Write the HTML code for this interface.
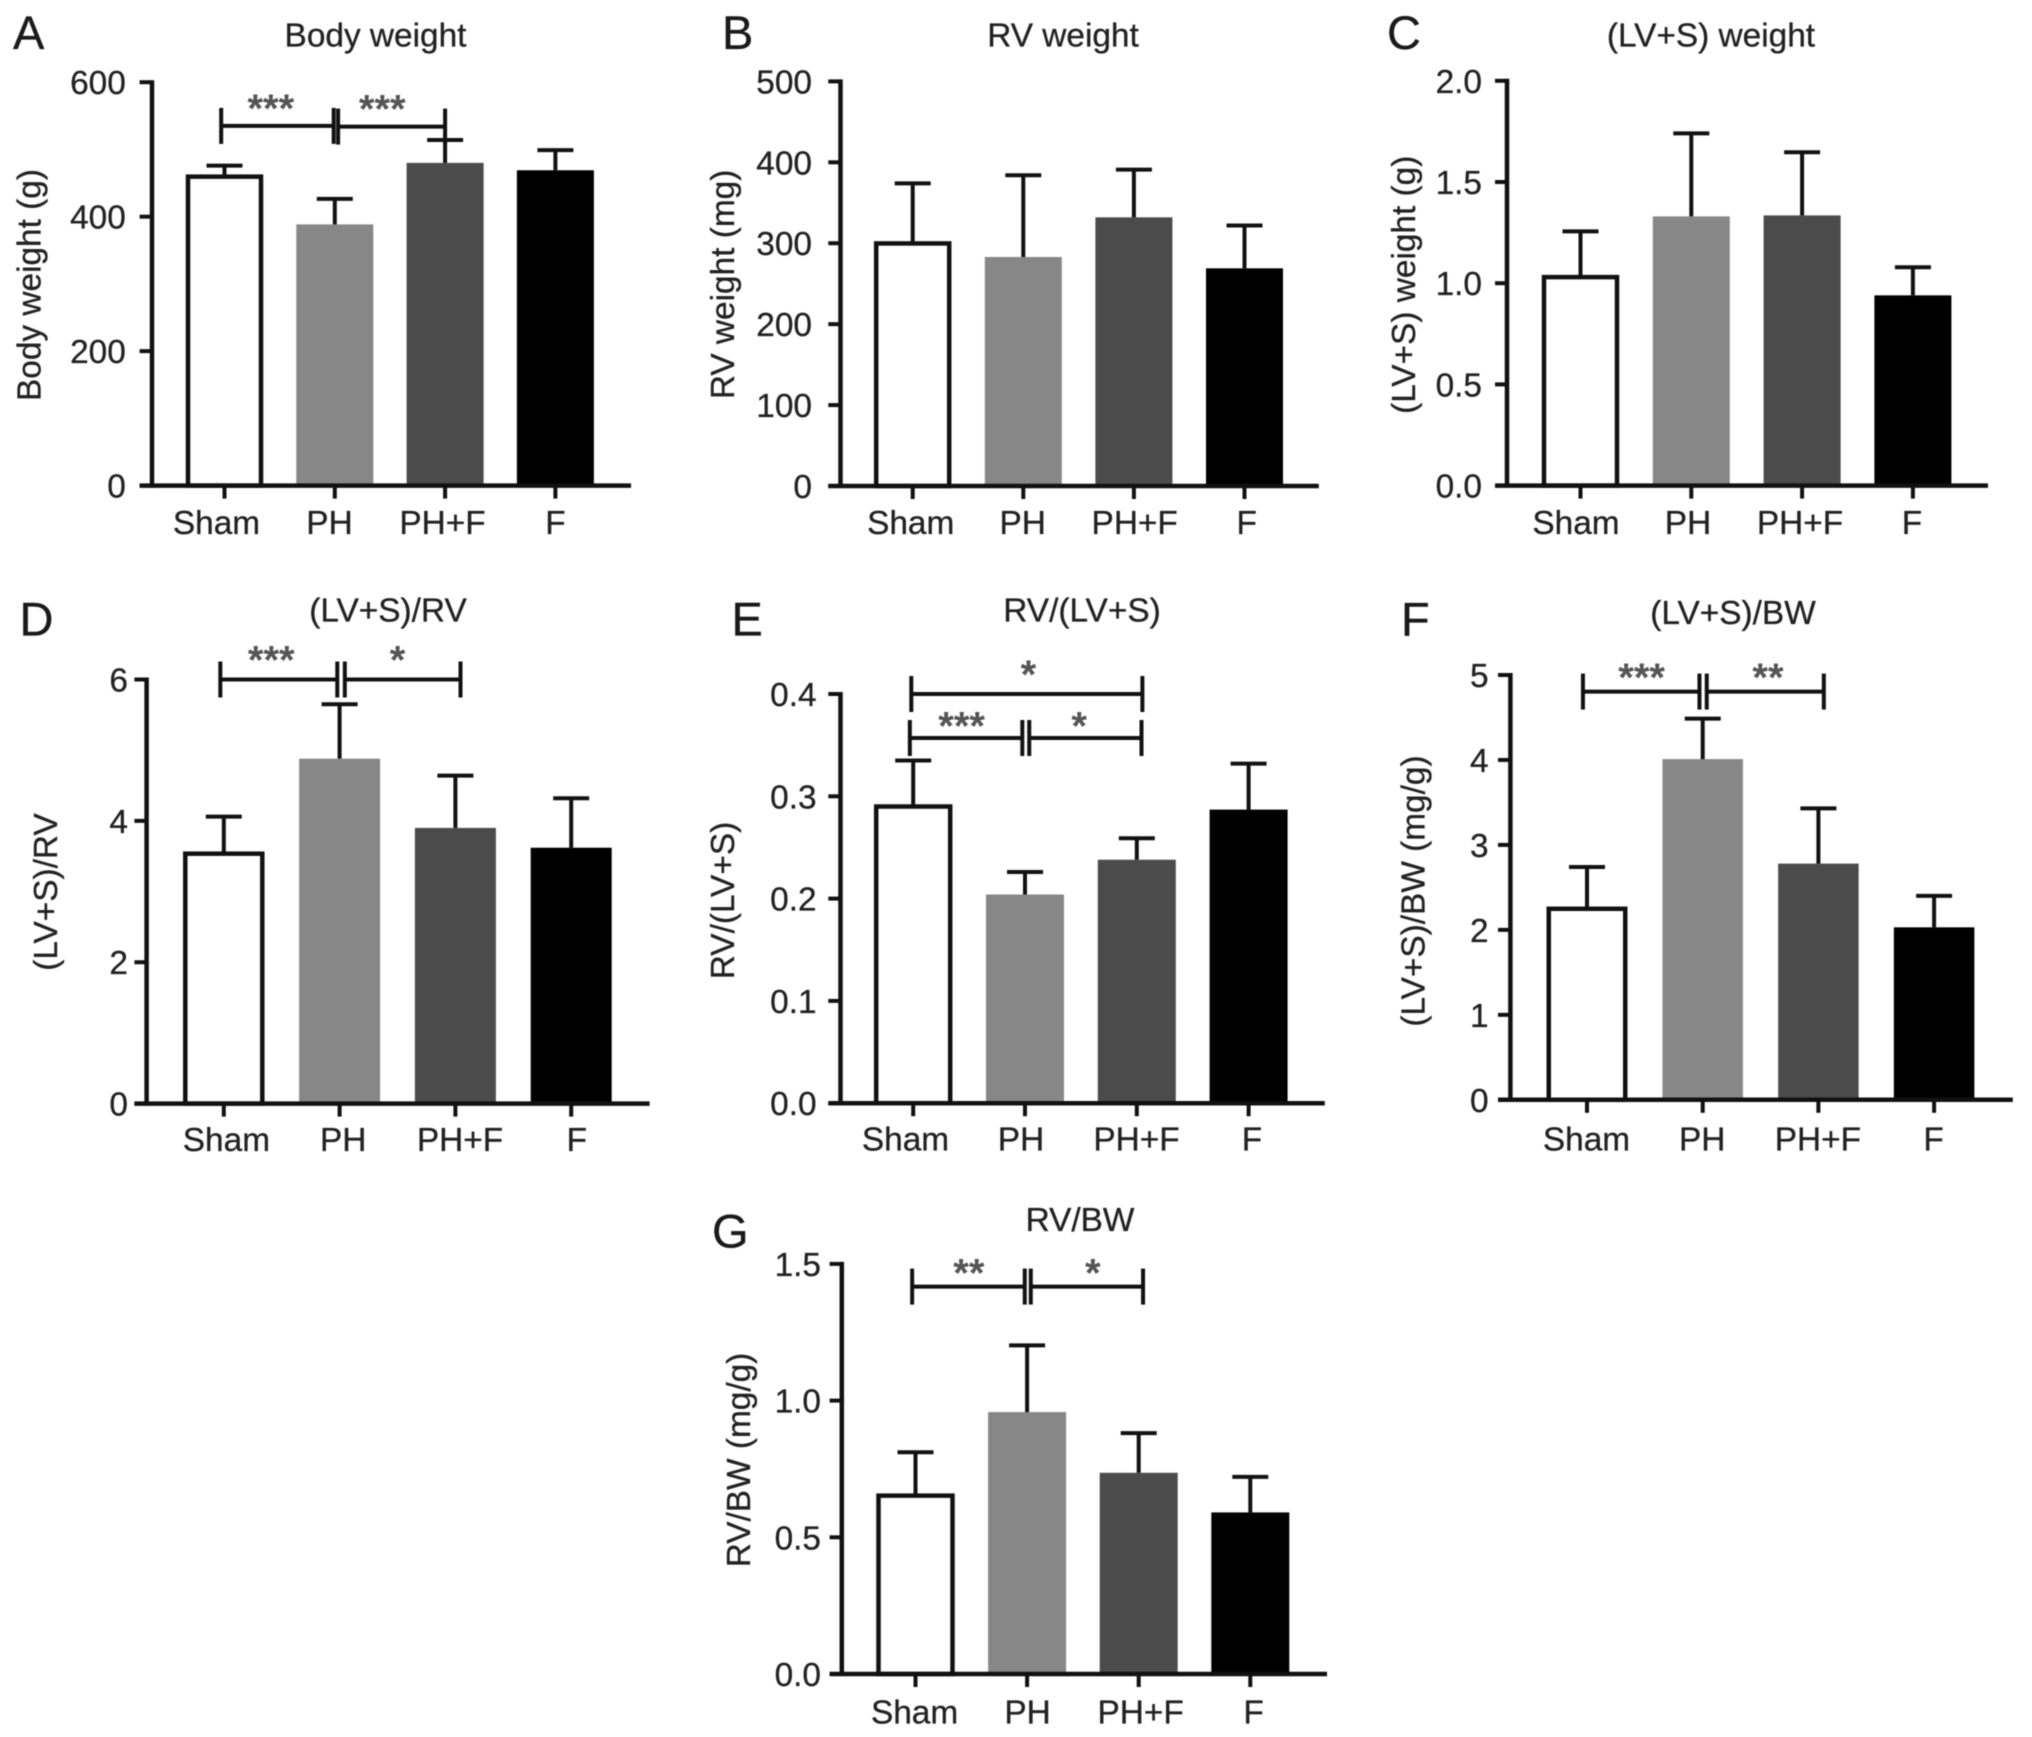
<!DOCTYPE html>
<html lang="en">
<head>
<meta charset="utf-8">
<title>Body and heart weight bar charts</title>
<style>
  html, body { margin: 0; padding: 0; background: #fff; }
  #figure { display: block; width: 2032px; height: 1737px; filter: blur(0.6px); }
  text { font-family: "Liberation Sans", sans-serif; fill: #222; font-size: 33.4px; stroke: #222; stroke-width: 0.3px; }
  .letter { font-size: 47px; fill: #1a1a1a; stroke: #1a1a1a; }
  .star { font-size: 40px; font-weight: bold; fill: #555; stroke: none; text-anchor: middle; }
  .mid { text-anchor: middle; }
  .end { text-anchor: end; }
</style>
</head>
<body>
<svg id="figure" xmlns="http://www.w3.org/2000/svg" width="2032" height="1737" viewBox="0 0 2032 1737">
  <rect width="2032" height="1737" fill="#fff"/>

  <g id="panel-a">
    <text class="letter" x="13" y="49">A</text>
    <text class="mid" x="375.5" y="46.5">Body weight</text>
    <text class="mid" transform="translate(40.3 285) rotate(-90)">Body weight (g)</text>
  </g>
  <g id="panel-b">
    <text class="letter" x="722" y="49">B</text>
    <text class="mid" x="1063" y="46.5">RV weight</text>
    <text class="mid" transform="translate(734 284.4) rotate(-90)">RV weight (mg)</text>
  </g>
  <g id="panel-c">
    <text class="letter" x="1387" y="49">C</text>
    <text class="mid" x="1711" y="46.5">(LV+S) weight</text>
    <text class="mid" transform="translate(1415 284.8) rotate(-90)">(LV+S) weight (g)</text>
  </g>
  <g id="panel-d">
    <text class="letter" x="19.5" y="635.5">D</text>
    <text class="mid" x="388" y="621.3">(LV+S)/RV</text>
    <text class="mid" transform="translate(57 892) rotate(-90)">(LV+S)/RV</text>
  </g>
  <g id="panel-e">
    <text class="letter" x="731.5" y="635.5">E</text>
    <text class="mid" x="1082" y="621.3">RV/(LV+S)</text>
    <text class="mid" transform="translate(734 900.5) rotate(-90)">RV/(LV+S)</text>
  </g>
  <g id="panel-f">
    <text class="letter" x="1401" y="635.5">F</text>
    <text class="mid" x="1733" y="624">(LV+S)/BW</text>
    <text class="mid" transform="translate(1424.5 891) rotate(-90)">(LV+S)/BW (mg/g)</text>
  </g>
  <g id="panel-g">
    <text class="letter" x="712" y="1247.6">G</text>
    <text class="mid" x="1080" y="1231">RV/BW</text>
    <text class="mid" transform="translate(750 1460) rotate(-90)">RV/BW (mg/g)</text>
  </g>
</svg>

<script>
// ---------- Data ----------
const categories = ['Sham', 'PH', 'PH+F', 'F'];

const bodyWeightMeans = [461, 388.5, 480, 469];
const bodyWeightErrors = [15, 38, 34, 30];
const bodyWeightTicks = ['0', '200', '400', '600'];

const rvWeightMeans = [301, 283, 332, 269];
const rvWeightErrors = [73, 101, 59, 53];
const rvWeightTicks = ['0', '100', '200', '300', '400', '500'];

const lvsWeightMeans = [1.035, 1.33, 1.335, 0.94];
const lvsWeightErrors = [0.221, 0.41, 0.312, 0.139];
const lvsWeightTicks = ['0.0', '0.5', '1.0', '1.5', '2.0'];

const lvsRvMeans = [3.55, 4.88, 3.9, 3.62];
const lvsRvErrors = [0.51, 0.77, 0.74, 0.70];
const lvsRvTicks = ['0', '2', '4', '6'];

const rvLvsMeans = [0.291, 0.204, 0.238, 0.287];
const rvLvsErrors = [0.044, 0.022, 0.021, 0.045];
const rvLvsTicks = ['0.0', '0.1', '0.2', '0.3', '0.4'];

const lvsBwMeans = [2.26, 4.01, 2.78, 2.03];
const lvsBwErrors = [0.48, 0.477, 0.65, 0.37];
const lvsBwTicks = ['0', '1', '2', '3', '4', '5'];

const rvBwMeans = [0.656, 0.958, 0.736, 0.591];
const rvBwErrors = [0.155, 0.244, 0.145, 0.13];
const rvBwTicks = ['0.0', '0.5', '1.0', '1.5'];

// Significance brackets: from/to/labelAt in category units, level in data units.
const bodyWeightSig = [
  { from: -0.03, to: 0.99, level: 535, mark: '***', labelAt: 0.42 },
  { from: 1.03, to: 2.0, level: 534, mark: '***', labelAt: 1.43 }
];
const rvWeightSig = [];
const lvsWeightSig = [];
const lvsRvSig = [
  { from: -0.03, to: 0.98, level: 6.0, mark: '***', labelAt: 0.41 },
  { from: 1.045, to: 2.044, level: 6.0, mark: '*', labelAt: 1.50 }
];
const rvLvsSig = [
  { from: -0.017, to: 2.05, level: 0.4, mark: '*', labelAt: 1.03 },
  { from: -0.03, to: 0.976, level: 0.357, mark: '***', labelAt: 0.433 },
  { from: 1.038, to: 2.042, level: 0.357, mark: '*', labelAt: 1.484 }
];
const lvsBwSig = [
  { from: -0.035, to: 0.972, level: 4.805, mark: '***', labelAt: 0.472 },
  { from: 1.035, to: 2.047, level: 4.805, mark: '**', labelAt: 1.564 }
];
const rvBwSig = [
  { from: -0.03, to: 0.979, level: 1.417, mark: '**', labelAt: 0.478 },
  { from: 1.033, to: 2.039, level: 1.417, mark: '*', labelAt: 1.589 }
];

// ---------- Panel geometry (no data here) ----------
const panels = [
  { id: 'panel-a', means: bodyWeightMeans, errors: bodyWeightErrors, ticks: bodyWeightTicks, sig: bodyWeightSig,
    axisX: 152, y0: 485.6, yTop: 82.2, tickLeft: 139.6, xRight: 631, barX0: 224.5, barStep: 110.3, barW: 77,
    labelX0: 216.5, labelStep: 113, labelY: 534, tickRight: 125.8, rise: 27, firstRise: 27 },
  { id: 'panel-b', means: rvWeightMeans, errors: rvWeightErrors, ticks: rvWeightTicks, sig: rvWeightSig,
    axisX: 840.5, y0: 486, yTop: 81.4, tickLeft: 828.3, xRight: 1318.8, barX0: 912.7, barStep: 110.6, barW: 77,
    labelX0: 910.7, labelStep: 112, labelY: 534, tickRight: 812, rise: 23, firstRise: 23 },
  { id: 'panel-c', means: lvsWeightMeans, errors: lvsWeightErrors, ticks: lvsWeightTicks, sig: lvsWeightSig,
    axisX: 1507, y0: 485.6, yTop: 80.8, tickLeft: 1495, xRight: 1988, barX0: 1580.5, barStep: 110.8, barW: 77,
    labelX0: 1576, labelStep: 112, labelY: 534, tickRight: 1482, rise: 23, firstRise: 23 },
  { id: 'panel-d', means: lvsRvMeans, errors: lvsRvErrors, ticks: lvsRvTicks, sig: lvsRvSig,
    axisX: 146.6, y0: 1103.6, yTop: 679.5, tickLeft: 134.4, xRight: 649.6, barX0: 223.8, barStep: 115.8, barW: 81,
    labelX0: 226.4, labelStep: 116.8, labelY: 1151, tickRight: 128, rise: 29, firstRise: 29 },
  { id: 'panel-e', means: rvLvsMeans, errors: rvLvsErrors, ticks: rvLvsTicks, sig: rvLvsSig,
    axisX: 840.5, y0: 1103.2, yTop: 694, tickLeft: 828.3, xRight: 1324.8, barX0: 913.2, barStep: 111.8, barW: 78,
    labelX0: 905.5, labelStep: 115.5, labelY: 1150.6, tickRight: 816.6, rise: 21.5, firstRise: 29 },
  { id: 'panel-f', means: lvsBwMeans, errors: lvsBwErrors, ticks: lvsBwTicks, sig: lvsBwSig,
    axisX: 1510.4, y0: 1099.8, yTop: 675, tickLeft: 1498, xRight: 2012.8, barX0: 1587, barStep: 115.7, barW: 80.5,
    labelX0: 1586.5, labelStep: 115.7, labelY: 1150.6, tickRight: 1488.6, rise: 23.5, firstRise: 23.5 },
  { id: 'panel-g', means: rvBwMeans, errors: rvBwErrors, ticks: rvBwTicks, sig: rvBwSig,
    axisX: 841.8, y0: 1674, yTop: 1263.9, tickLeft: 829.6, xRight: 1327, barX0: 915.5, barStep: 111.6, barW: 78,
    labelX0: 914.6, labelStep: 113, labelY: 1723.7, tickRight: 821, rise: 23, firstRise: 23 }
];

const barFills = ['#ffffff', '#878787', '#4b4b4b', '#000000'];
const INK = '#111111';
const SVG_NS = 'http://www.w3.org/2000/svg';

function makeLine(parent, x1, y1, x2, y2, width) {
  const el = document.createElementNS(SVG_NS, 'line');
  el.setAttribute('x1', x1);
  el.setAttribute('y1', y1);
  el.setAttribute('x2', x2);
  el.setAttribute('y2', y2);
  el.setAttribute('stroke', INK);
  el.setAttribute('stroke-width', width);
  parent.appendChild(el);
  return el;
}

function drawPanel(p) {
  const root = document.getElementById(p.id);
  const tickValues = p.ticks.map(Number);
  const maxTick = tickValues[tickValues.length - 1];
  const yScale = v => p.y0 - (v / maxTick) * (p.y0 - p.yTop);
  const xScale = i => p.barX0 + i * p.barStep;

  // Bars
  p.means.forEach((mean, i) => {
    const cx = xScale(i);
    const top = yScale(mean);
    const bar = document.createElementNS(SVG_NS, 'rect');
    
    
    if (i === 0) {
      bar.setAttribute('x', cx - p.barW / 2 + 2);
      bar.setAttribute('y', top + 1);
      bar.setAttribute('width', p.barW - 4);
      bar.setAttribute('height', p.y0 - top - 1);
      bar.setAttribute('fill', barFills[i]);
      bar.setAttribute('stroke', INK);
      bar.setAttribute('stroke-width', 4.5);
    } else {
      bar.setAttribute('x', cx - p.barW / 2);
      bar.setAttribute('y', top);
      bar.setAttribute('width', p.barW);
      bar.setAttribute('height', p.y0 - top);
      bar.setAttribute('fill', barFills[i]);
    }
    root.appendChild(bar);

    // Error bar
    const errTop = yScale(mean + p.errors[i]);
    const stem = makeLine(root, cx, top, cx, errTop, 4);
    
    
    const cap = makeLine(root, cx - 18, errTop, cx + 18, errTop, 4);
    
    
  });

  // Y axis
  const yAxis = makeLine(root, p.axisX, p.yTop - 2, p.axisX, p.y0 + 2, 4.5);
  
  
  tickValues.forEach((v, i) => {
    const y = yScale(v);
    const tick = makeLine(root, p.tickLeft, y, p.axisX, y, 4);
    
    
    const label = document.createElementNS(SVG_NS, 'text');
    
    
    label.setAttribute('class', 'end');
    label.setAttribute('x', p.tickRight);
    label.setAttribute('y', y + 12);
    label.textContent = p.ticks[i];
    root.appendChild(label);
  });

  // X axis
  const xAxis = makeLine(root, p.tickLeft, p.y0, p.xRight, p.y0, 4.5);
  
  
  categories.forEach((c, i) => {
    const x = xScale(i);
    const tick = makeLine(root, x, p.y0, x, p.y0 + 13, 4);
    
    
    const label = document.createElementNS(SVG_NS, 'text');
    
    
    label.setAttribute('class', 'mid');
    label.setAttribute('x', p.labelX0 + i * p.labelStep);
    label.setAttribute('y', p.labelY);
    label.textContent = c;
    root.appendChild(label);
  });

  // Significance brackets
  p.sig.forEach((s, k) => {
    const y = yScale(s.level);
    const xa = xScale(s.from);
    const xb = xScale(s.to);
    const span = makeLine(root, xa, y, xb, y, 4);
    
    
    const endA = makeLine(root, xa, y - 18, xa, y + 18, 4);
    
    
    const endB = makeLine(root, xb, y - 18, xb, y + 18, 4);
    
    
    const mark = document.createElementNS(SVG_NS, 'text');
    
    
    mark.setAttribute('class', 'star');
    mark.setAttribute('x', xScale(s.labelAt));
    mark.setAttribute('y', y - (k === 0 ? p.firstRise : p.rise) + 23);
    mark.textContent = s.mark;
    root.appendChild(mark);
  });
}

panels.forEach(drawPanel);
</script>
</body>
</html>
